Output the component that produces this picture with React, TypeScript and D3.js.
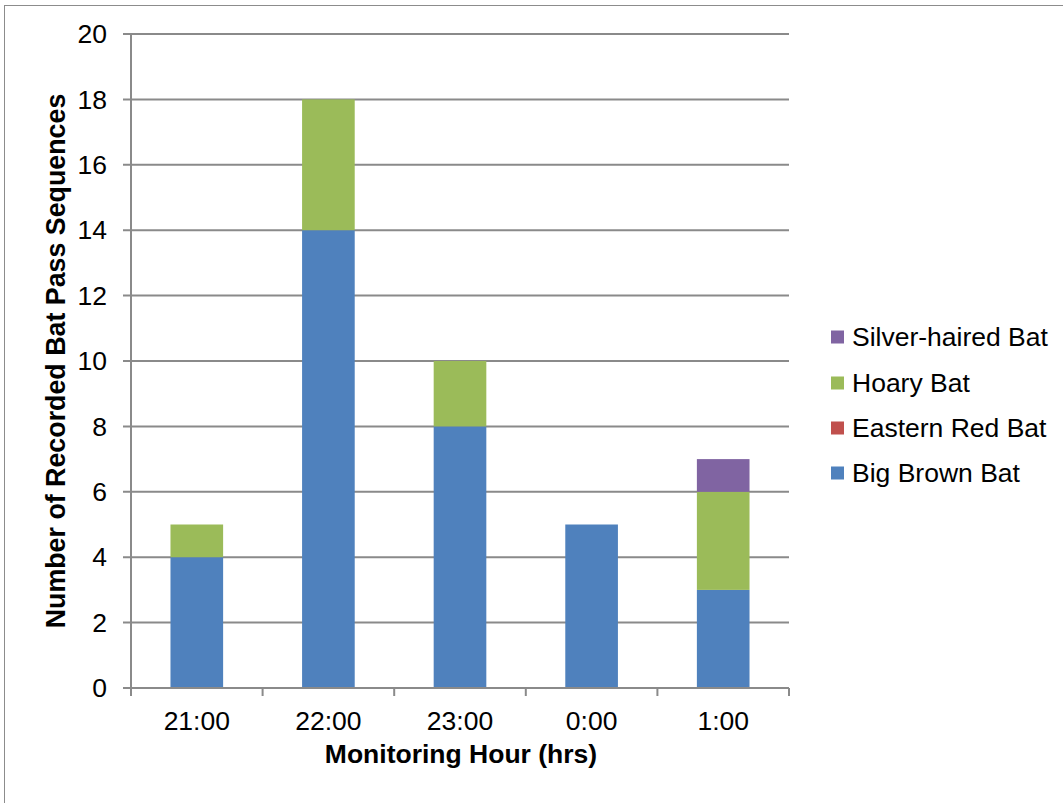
import React from "react";
import * as d3 from "d3";

const categories = ["21:00", "22:00", "23:00", "0:00", "1:00"];
const bigBrownBat = [4, 14, 8, 5, 3];
const easternRedBat = [0, 0, 0, 0, 0];
const hoaryBat = [1, 4, 2, 0, 3];
const silverHairedBat = [0, 0, 0, 0, 1];
const seriesNames = ["Big Brown Bat", "Eastern Red Bat", "Hoary Bat", "Silver-haired Bat"];
const seriesColors = ["#4F81BD", "#C0504D", "#9BBB59", "#8064A2"];
const yTicks = [0, 2, 4, 6, 8, 10, 12, 14, 16, 18, 20];

const W = 1063;
const H = 803;
const left = 131;
const right = 789;
const top = 34;
const bottom = 688;
const FONT = "'Liberation Sans', Arial, sans-serif";
const GRID = "#8a8a8a";
const FS = 26.5;

export default function App() {
  const x = d3.scaleBand<string>().domain(categories).range([left, right]).paddingInner(0.6).paddingOuter(0.3);
  const xTickScale = d3.scaleLinear().domain([0, categories.length]).range([left, right]);
  const y = d3.scaleLinear().domain([0, 20]).range([bottom, top]);

  const table = categories.map((c, i) => ({
    cat: c,
    "Big Brown Bat": bigBrownBat[i],
    "Eastern Red Bat": easternRedBat[i],
    "Hoary Bat": hoaryBat[i],
    "Silver-haired Bat": silverHairedBat[i],
  }));
  const stack = d3.stack<any>().keys(seriesNames)(table);

  const legendOrder = [3, 2, 1, 0];
  const legendY = [337, 383, 428, 473];

  return (
    <svg width={W} height={H} style={{ position: "absolute", left: 0, top: 0, background: "#fff" }} fontFamily={FONT}>
      <rect x={4.5} y={5.5} width={W + 10} height={H + 10} fill="none" stroke="#8c8c8c" strokeWidth={1} />
      {yTicks.map((t) => (
        <g key={t}>
          <line x1={123} x2={right} y1={y(t)} y2={y(t)} stroke={GRID} strokeWidth={2} />
          <text x={107} y={y(t)} dy="0.35em" textAnchor="end" fontSize={FS} fill="#000">
            {t}
          </text>
        </g>
      ))}
      <line x1={left} x2={left} y1={top} y2={bottom} stroke={GRID} strokeWidth={2} />
      {d3.range(categories.length + 1).map((i) => (
        <line key={i} x1={xTickScale(i)} x2={xTickScale(i)} y1={bottom} y2={bottom + 8} stroke={GRID} strokeWidth={2} />
      ))}
      {stack.map((s, si) => (
        <g key={s.key} fill={seriesColors[si]}>
          {s.map((d, i) =>
            d[1] - d[0] > 0 ? (
              <rect key={i} x={x(categories[i])} width={x.bandwidth()} y={y(d[1])} height={y(d[0]) - y(d[1])} />
            ) : null
          )}
        </g>
      ))}
      <line x1={left} x2={right} y1={bottom} y2={bottom} stroke={GRID} strokeWidth={2} />
      {categories.map((c) => (
        <text key={c} x={x(c)! + x.bandwidth() / 2} y={730} textAnchor="middle" fontSize={FS} fill="#000">
          {c}
        </text>
      ))}
      <text x={461} y={763} textAnchor="middle" fontSize={FS} fontWeight="bold" fill="#000">
        Monitoring Hour (hrs)
      </text>
      <text transform={`translate(65, ${(top + bottom) / 2}) rotate(-90)`} textAnchor="middle" fontSize={26.8} fontWeight="bold" fill="#000">
        Number of Recorded Bat Pass Sequences
      </text>
      {legendOrder.map((si, k) => (
        <g key={si}>
          <rect x={831} y={legendY[k] - 6.5} width={13} height={13} fill={seriesColors[si]} />
          <text x={852} y={legendY[k]} dy="0.35em" fontSize={FS} fill="#000">
            {seriesNames[si]}
          </text>
        </g>
      ))}
    </svg>
  );
}
